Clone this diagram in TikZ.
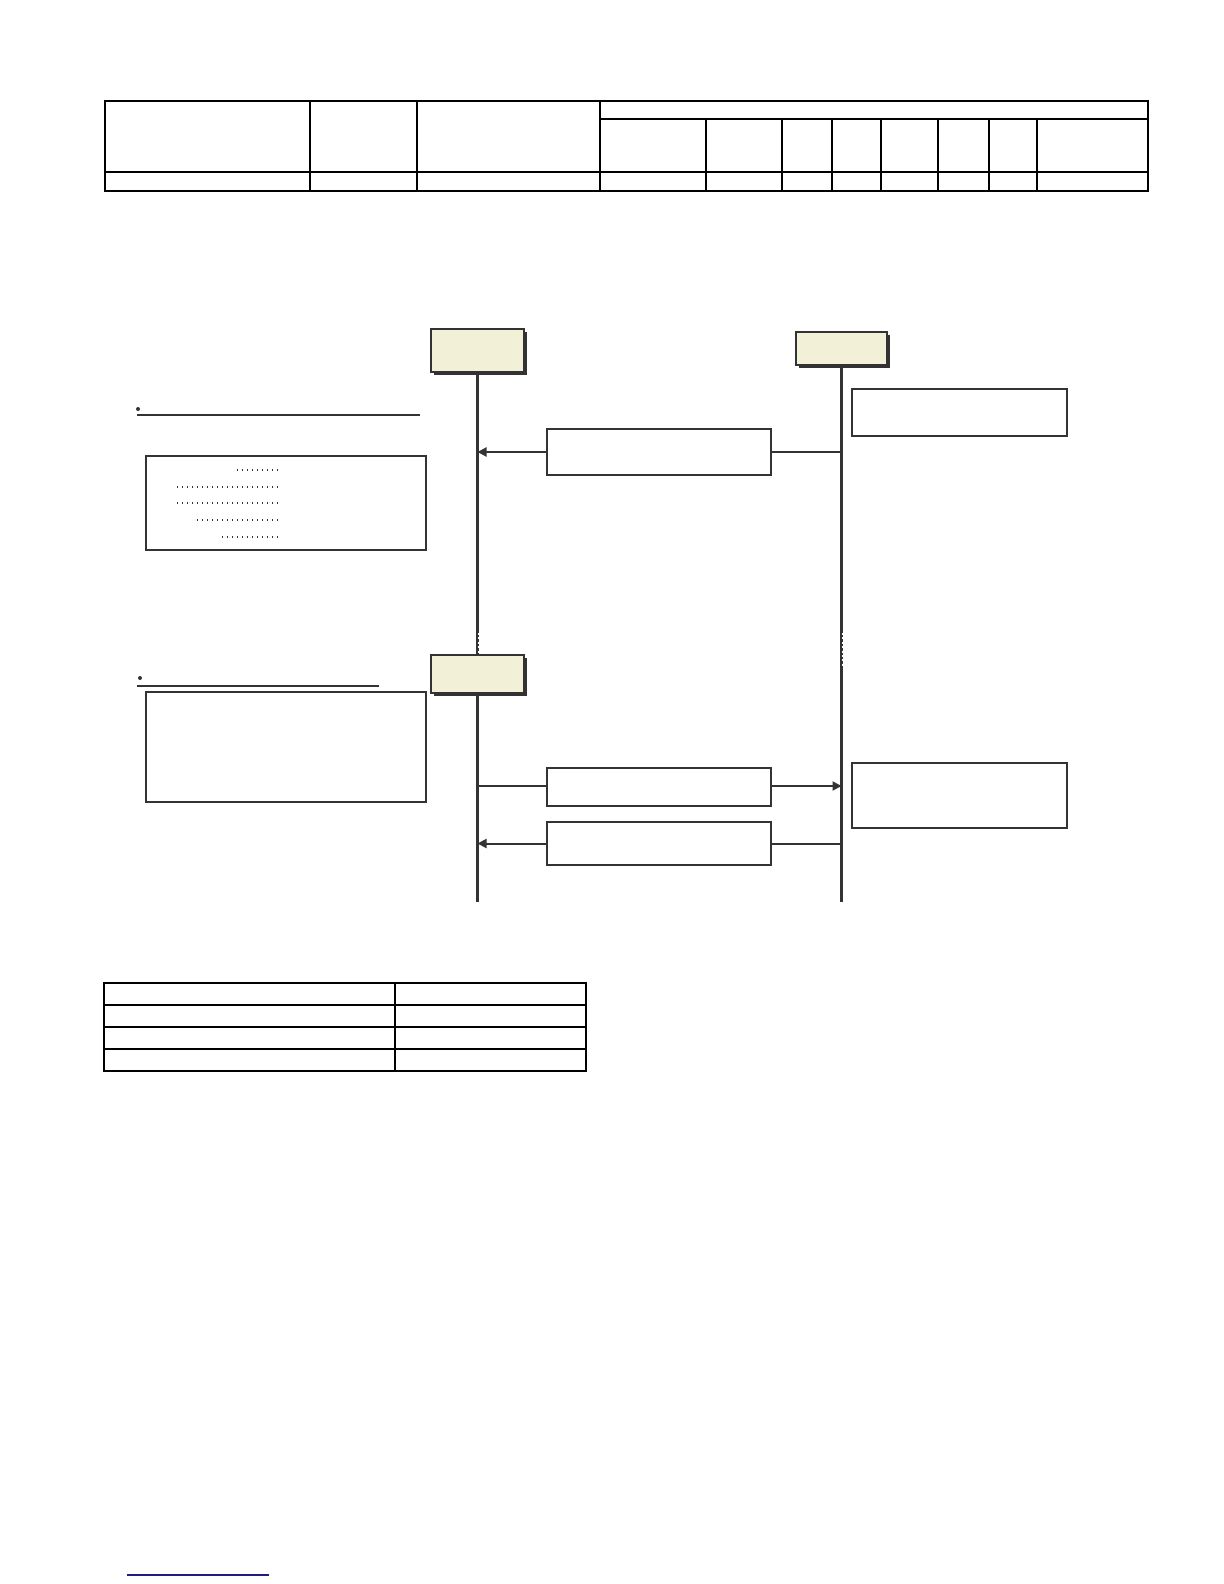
\documentclass[tikz,border=0pt]{standalone}
\usetikzlibrary{arrows.meta,shadows}
\definecolor{objfill}{HTML}{F2F0D6}
\definecolor{ink}{HTML}{333333}
\definecolor{linkblue}{HTML}{1C1C82}
\tikzset{
  obj/.style={draw=ink, line width=0.6pt, fill=objfill, minimum width=46.5pt, inner sep=0pt,
    drop shadow={shadow xshift=1.5pt, shadow yshift=-1.5pt, fill=ink, opacity=1}},
  msgbox/.style={draw=ink, line width=0.6pt, fill=white, minimum width=112pt, inner sep=0pt},
  notebox/.style={draw=ink, line width=0.6pt, minimum width=107.5pt, inner sep=0pt},
  legendbox/.style={draw=ink, line width=0.6pt, minimum width=140pt, inner sep=0pt},
  lifeline/.style={draw=ink, line width=1.4pt},
  msgline/.style={draw=ink, line width=1pt},
  msgarrow/.style={msgline, -{Triangle[length=4.5pt,width=4.5pt]}},
  grid/.style={draw=black, line width=0.6pt}
}
\begin{document}
\begin{tikzpicture}[x=0.5pt,y=-0.5pt]
  \useasboundingbox (0,0) rectangle (1224,1584);
  % top table
  \draw[grid] (105,101) rectangle (1148,191);
  \draw[grid] (600,119) -- (1148,119);
  \draw[grid] (105,172) -- (1148,172);
  \foreach \x in {310,417,600}
    \draw[grid] (\x,101) -- (\x,191);
  \foreach \x in {706,782,832,881,938,989,1037}
    \draw[grid] (\x,119) -- (\x,191);

  % objects
  \node[obj, minimum height=21.5pt] (objA) at (477.5,350.5) {};
  \node[obj, minimum height=16.5pt, minimum width=45.5pt] (objB) at (841.5,348.5) {};
  \node[obj, minimum height=19pt] (objC) at (477.5,674) {};
  \coordinate (endA) at (477.5,902);
  \coordinate (endB) at (841.5,902);
  \draw[lifeline] (objA.south) -- (objC.north);
  \draw[lifeline, line width=1.8pt] (objC.south) -- (endA);
  \draw[lifeline, line width=1.2pt] (objB.south) -- (endB);
  % breaks in the lifelines
  \draw[white, line width=0.4pt, dash pattern=on 1pt off 1.2pt] (478.5,633) -- (478.5,653);
  \draw[white, line width=0.4pt, dash pattern=on 1pt off 1.2pt] (842.5,633) -- (842.5,668);

  % messages
  \node[msgbox, minimum height=23pt] (msg1) at (659,452) {};
  \node[msgbox, minimum height=19pt] (msg2) at (659,787) {};
  \node[msgbox, minimum height=21.5pt] (msg3) at (659,843.5) {};
  \coordinate (m1a) at (477.5,452);
  \coordinate (m1b) at (841.5,452);
  \coordinate (m2a) at (477.5,786);
  \coordinate (m2b) at (841.5,786);
  \coordinate (m3a) at (477.5,843.5);
  \coordinate (m3b) at (841.5,843.5);
  \draw[msgline] (m1b) -- (msg1.east);
  \draw[msgarrow] (msg1.west) -- (m1a);
  \draw[msgline] (m2a) -- (m2a -| msg2.west);
  \draw[msgarrow] (m2b -| msg2.east) -- (m2b);
  \draw[msgline] (m3b) -- (msg3.east);
  \draw[msgarrow] (msg3.west) -- (m3a);

  % notes
  \node[notebox, minimum height=23.5pt] (note1) at (959.5,412.5) {};
  \node[notebox, minimum height=32.5pt] (note2) at (959.5,795.5) {};

  % legends
  \fill[ink] (138,409) circle (1pt);
  \draw[ink, line width=0.6pt] (137,415) -- (420,415);
  \node[legendbox, minimum height=47pt] (legend1) at (286,503) {};
  \foreach \xs/\y in {237/470, 177/487, 177/503, 197/520, 222/537}
    \draw[ink, line width=0.7pt, dash pattern=on 0.5pt off 2pt] (\xs,\y) -- (280,\y);
  \fill[ink] (140,678) circle (1pt);
  \draw[ink, line width=0.6pt] (137,686) -- (379,686);
  \node[legendbox, minimum height=55pt] (legend2) at (286,747) {};

  % bottom table
  \draw[grid] (104,983) rectangle (586,1071);
  \foreach \y in {1005,1027,1049}
    \draw[grid] (104,\y) -- (586,\y);
  \draw[grid] (395,983) -- (395,1071);

  \draw[linkblue, line width=0.6pt] (127,1575) -- (269,1575);
\end{tikzpicture}
\end{document}
